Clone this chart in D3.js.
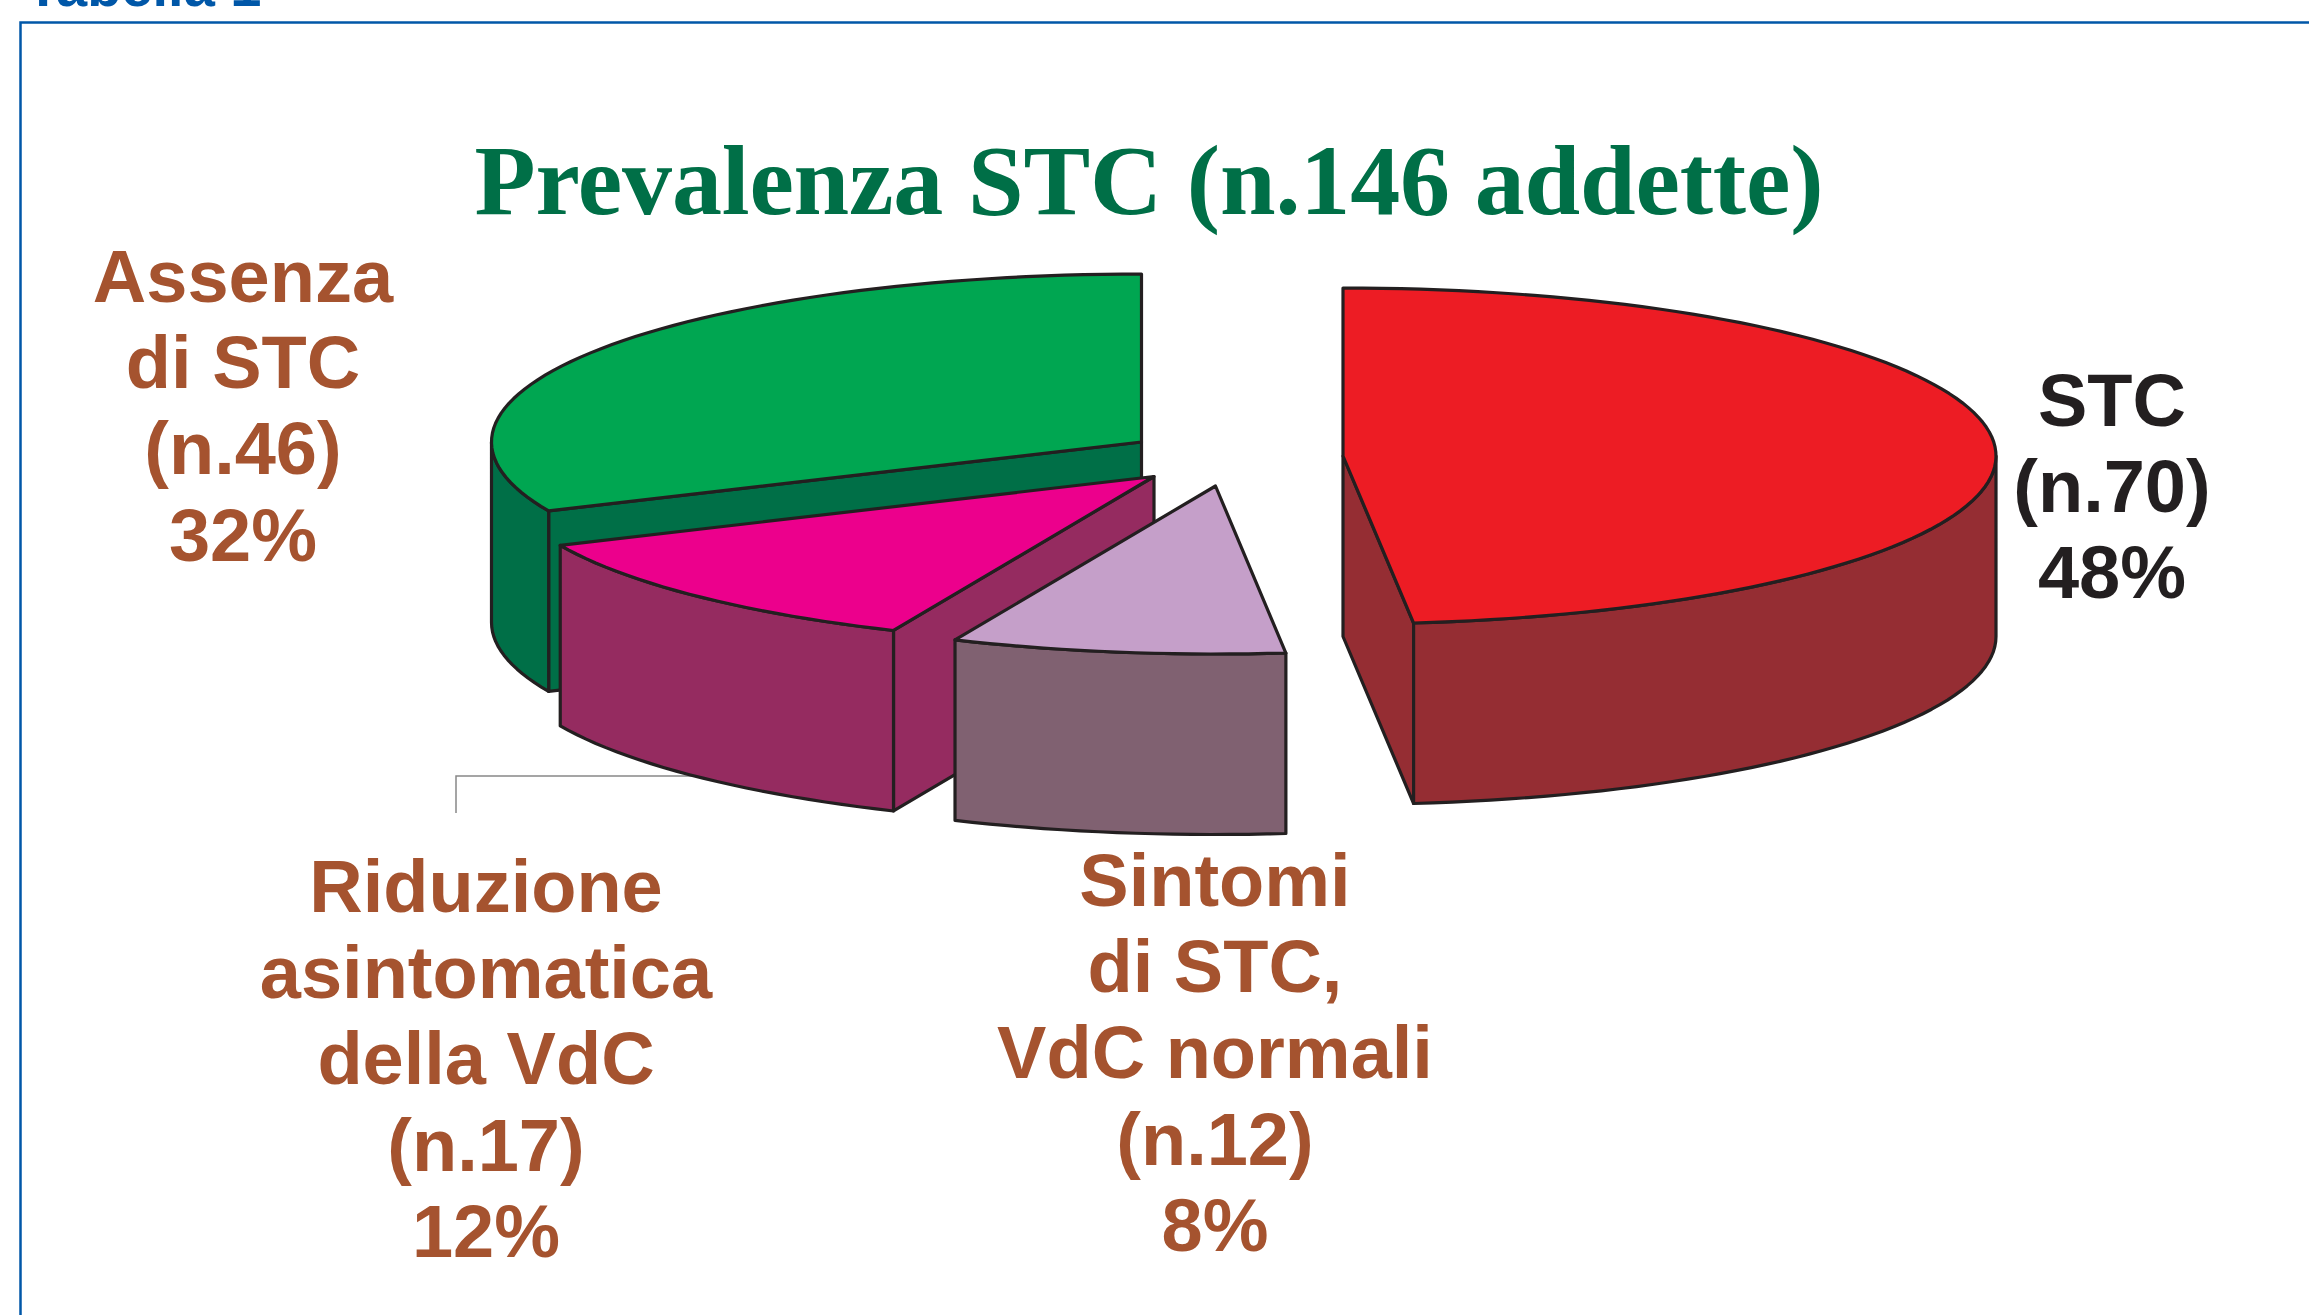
<!DOCTYPE html>
<html>
<head>
<meta charset="utf-8">
<script src="https://cdn.jsdelivr.net/npm/d3@7"></script>
<style>
  html, body { margin: 0; background: #fff; overflow: hidden; }
  text { font-family: "Liberation Sans", Arial, sans-serif; font-weight: bold; }
</style>
</head>
<body>
<svg id="chart" width="2309" height="1315"></svg>
<script>
// values, clockwise from 12 o'clock
const sliceNames = ["STC", "Sintomi di STC, VdC normali", "Riduzione asintomatica della VdC", "Assenza di STC"];
const sliceCounts = [70, 12, 17, 46];
const topColours = ["#ed1c24", "#c59fc9", "#ec008c", "#00a651"];
const sideColours = ["#952d33", "#806171", "#952b60", "#006f47"];

const labelLines = [
  ["STC", "(n.70)", "48%"],
  ["Sintomi", "di STC,", "VdC normali", "(n.12)", "8%"],
  ["Riduzione", "asintomatica", "della VdC", "(n.17)", "12%"],
  ["Assenza", "di STC", "(n.46)", "32%"]
];
const labelColours = ["#231f20", "#a5532f", "#a5532f", "#a5532f"];

// layout: where each exploded slice has its apex, and label anchors
const apexX = [1343, 1215.5, 1154, 1141.5];
const apexY = [456, 486, 476.5, 442];
const radiusX = [653, 651, 651, 650];
const labelX = [2112, 1215, 486, 243];
const labelY = [426, 906, 912, 302];
const labelStep = 86.2;
const RY = 168, DEPTH = 180.5;
const INK = "#231f20";

const svg = d3.select("#chart");

// frame + clipped caption
svg.append("path").attr("fill", "none").attr("stroke", "#0057a8").attr("stroke-width", 2.5)
  .attr("d", "M2309,22.5H20.5V1315");
svg.append("text").attr("x", 26).attr("y", 6).attr("font-size", 56).attr("fill", "#0057a8")
  .text("Tabella 1");

svg.append("text").attr("x", 1149).attr("y", 214).attr("text-anchor", "middle")
  .attr("font-size", 100).attr("fill", "#006f47")
  .style("font-family", '"Liberation Serif", serif')
  .attr("textLength", 1349).attr("lengthAdjust", "spacing")
  .text("Prevalenza STC (n.146 addette)");

const pie = d3.pie().sort(null).value((d) => d);
const arcs = pie(sliceCounts);
const line = d3.line();

function drawSlice(i) {
  const a = arcs[i];

  // ellipse scales: a true pie angle projected onto the tilted disc
  const ex = d3.scaleLinear().domain([-1, 1]).range([-radiusX[i], radiusX[i]]);
  const ey = d3.scaleLinear().domain([-1, 1]).range([RY, -RY]);
  const rim = (a0, a1) => {
    const n = Math.max(2, Math.ceil((a1 - a0) / 0.03));
    return d3.range(n + 1).map((k) => {
      const t = a0 + (a1 - a0) * k / n;
      return [ex(Math.sin(t)), ey(Math.cos(t))];
    });
  };
  const drop = (pts) => pts.map(([x, y]) => [x, y + DEPTH]).reverse();

  const g = svg.append("g").attr("transform", `translate(${apexX[i]},${apexY[i]})`)
    .attr("stroke", INK).attr("stroke-width", 3.2).attr("stroke-linejoin", "round");
  const endCorner = rim(a.endAngle, a.endAngle)[0];
  const startCorner = rim(a.startAngle, a.startAngle)[0];

  // cut faces turned towards the viewer
  const face = (c) => g.append("path").attr("fill", sideColours[i])
    .attr("d", line([[0, 0], c, [c[0], c[1] + DEPTH], [0, DEPTH]]) + "Z");
  if (i === 0) face(endCorner);
  if (i === 2 || i === 3) face(startCorner);

  // outer wall: only the front half of the rim shows
  const w0 = Math.max(a.startAngle, Math.PI / 2);
  const w1 = Math.min(a.endAngle, Math.PI * 1.5);
  if (w1 > w0) {
    const r = rim(w0, w1);
    g.append("path").attr("fill", sideColours[i]).attr("d", line(r.concat(drop(r))) + "Z");
  }
  g.append("path").attr("fill", topColours[i])
    .attr("d", line([[0, 0]].concat(rim(a.startAngle, a.endAngle))) + "Z");
}

drawSlice(3);

// leader line of the "Riduzione" label
svg.append("path").attr("fill", "none").attr("stroke", "#888").attr("stroke-width", 1.5)
  .attr("d", line([[456, 813], [456, 776], [700, 776]]));

drawSlice(2);
drawSlice(1);
drawSlice(0);

// labels
labelLines.forEach((rows, i) => {
  svg.append("g").selectAll("text").data(rows).join("text")
    .attr("x", labelX[i])
    .attr("y", (_, k) => labelY[i] + k * labelStep)
    .attr("text-anchor", "middle")
    .attr("font-size", 74)
    .attr("fill", labelColours[i])
    .text((d) => d);
});
</script>
</body>
</html>
